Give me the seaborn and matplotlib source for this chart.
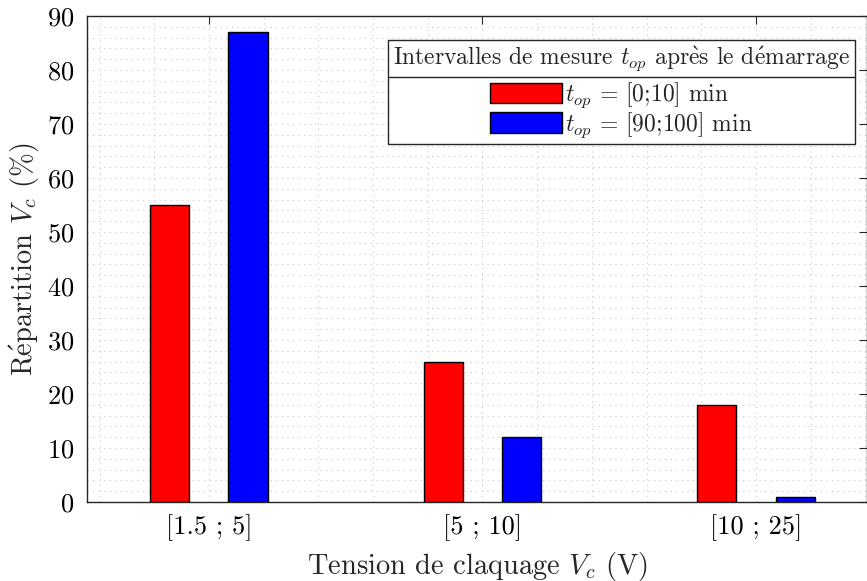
import matplotlib
matplotlib.use("Agg")
import matplotlib.pyplot as plt
from matplotlib.lines import Line2D
from matplotlib.ticker import MultipleLocator
import seaborn as sns
import pandas as pd

# Breakdown voltage classes and share of occurrences for each time window
classes = ["[1.5 ; 5]", "[5 ; 10]", "[10 ; 25]"]
series_labels = [r"$t_{op}$ = [0;10] min", r"$t_{op}$ = [90;100] min"]
share_early = [55, 26, 18]
share_late = [87, 12, 1]
y_ticks = [0, 10, 20, 30, 40, 50, 60, 70, 80, 90]

df = pd.DataFrame({
    "classe": classes * 2,
    "part": share_early + share_late,
    "fenetre": [series_labels[0]] * 3 + [series_labels[1]] * 3,
})

sns.set_style("white")
plt.rcParams["font.family"] = ["cmr10", "DejaVu Serif"]
plt.rcParams["mathtext.fontset"] = "cm"
plt.rcParams["axes.unicode_minus"] = False
plt.rcParams["axes.formatter.use_mathtext"] = True

# accented letters built with mathtext (cmr10 has no é / è glyphs)
E_ACUTE = r"$\mathrm{\acute{e}}$"
E_GRAVE = r"$\mathrm{\grave{e}}$"

fig = plt.figure(figsize=(8.67, 5.81), dpi=100)
ax = fig.add_axes([0.1003, 0.136, 0.8997, 0.8365])

sns.barplot(data=df, x="classe", y="part", hue="fenetre",
            palette=["#ff0000", "#0000ff"], width=0.572, gap=0.5,
            edgecolor="black", linewidth=1.0, saturation=1, ax=ax, zorder=3)

ax.set_xlim(-0.446, 2.406)
ax.set_ylim(0, 90)
ax.set_yticks(y_ticks)
ax.xaxis.set_minor_locator(MultipleLocator(0.2))
ax.yaxis.set_minor_locator(MultipleLocator(2))
ax.grid(True, which="both", linestyle=(0, (1, 4)), color="#c8c8c8", linewidth=0.8, zorder=0)
ax.set_axisbelow(True)

ax.tick_params(axis="both", which="major", direction="in", length=6, width=0.8,
               top=True, right=True, labelsize=19, colors="#262626", labelcolor="black", pad=9)
ax.tick_params(axis="both", which="minor", length=0)
for s in ax.spines.values():
    s.set_visible(True)
    s.set_color("#262626")
    s.set_linewidth(1.0)

ax.set_xlabel(r"Tension de claquage $V_c$ (V)", fontsize=20.5, labelpad=6)
ax.set_ylabel("R" + E_ACUTE + r"partition $V_c$ (%)", fontsize=20.5, labelpad=4)

leg = ax.legend(title=r"Intervalles de mesure $t_{op}$ apr" + E_GRAVE + "s le d" + E_ACUTE + "marrage",
                loc="upper right", bbox_to_anchor=(0.984, 0.951), borderaxespad=0,
                fontsize=17, title_fontsize=17, frameon=True, fancybox=False,
                framealpha=1, edgecolor="#262626", alignment="center",
                handlelength=3.05, handleheight=0.95, handletextpad=0.15,
                labelspacing=0.0, borderpad=0.2)
leg.get_frame().set_linewidth(1.0)
leg._legend_box.sep = 5
for h in leg.legend_handles:
    h.set_edgecolor("black")

# Separator under the legend title
fig.canvas.draw()
r = fig.canvas.get_renderer()
fb = leg.get_frame().get_window_extent(r)
tb = leg.get_title().get_window_extent(r)
ysep = tb.y0 - 3
inv = fig.transFigure.inverted()
(x0, y0), (x1, _) = inv.transform([(fb.x0, ysep), (fb.x1, ysep)])
fig.add_artist(Line2D([x0, x1], [y0, y0], color="#262626", linewidth=1.0, zorder=10))

fig.savefig("out.png", dpi=100)
